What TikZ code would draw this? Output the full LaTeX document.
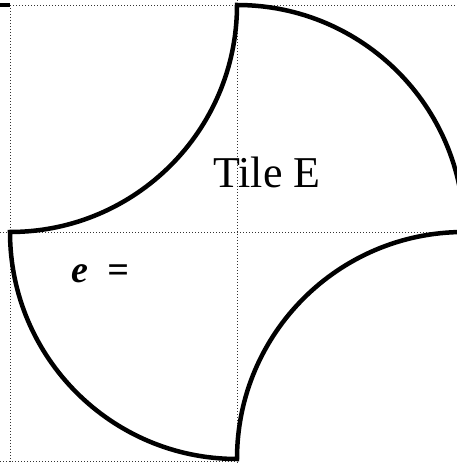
\documentclass[tikz,border=0pt]{standalone}
\usepackage{fontspec}
\setmainfont{Liberation Serif}
\usetikzlibrary{positioning}

\begin{document}
\begin{tikzpicture}[x=1pt, y=1pt,
    gridline/.style={line width=0.9pt, dash pattern=on 1pt off 2pt, black!80},
    tileedge/.style={line width=4.5pt, line join=miter},
    label/.style={inner sep=0pt, anchor=base west}]
  \useasboundingbox (0,0) rectangle (457,463);
  \clip (0,0) rectangle (457,463);
  \coordinate (c) at (237,231);
  \coordinate (t) at (237,458);
  \coordinate (l) at (10,231);
  % dotted grid
  \draw[gridline] (10,458) -- (10,0);
  \draw[gridline] (237,463) -- (237,0);
  \draw[gridline] (10,458) -- (457,458);
  \draw[gridline] (0,231) -- (457,231);
  \draw[gridline] (0,2) -- (237,2);
  % tile outline
  \draw[tileedge] (t) arc[start angle=90, end angle=0, radius=227]
    arc[start angle=90, end angle=180, radius=227]
    arc[start angle=270, end angle=180, radius=227]
    arc[start angle=270, end angle=360, radius=227] -- cycle;
  \draw[tileedge] (0,458) -- (10,458);
  \node[label, font=\fontsize{44}{50}\selectfont] (title) at (213,275) {Tile E};
  \node[label, font=\fontsize{38}{42}\selectfont\bfseries\itshape] (lhs) at (71,180) {e\hspace{19pt}=};
\end{tikzpicture}
\end{document}
